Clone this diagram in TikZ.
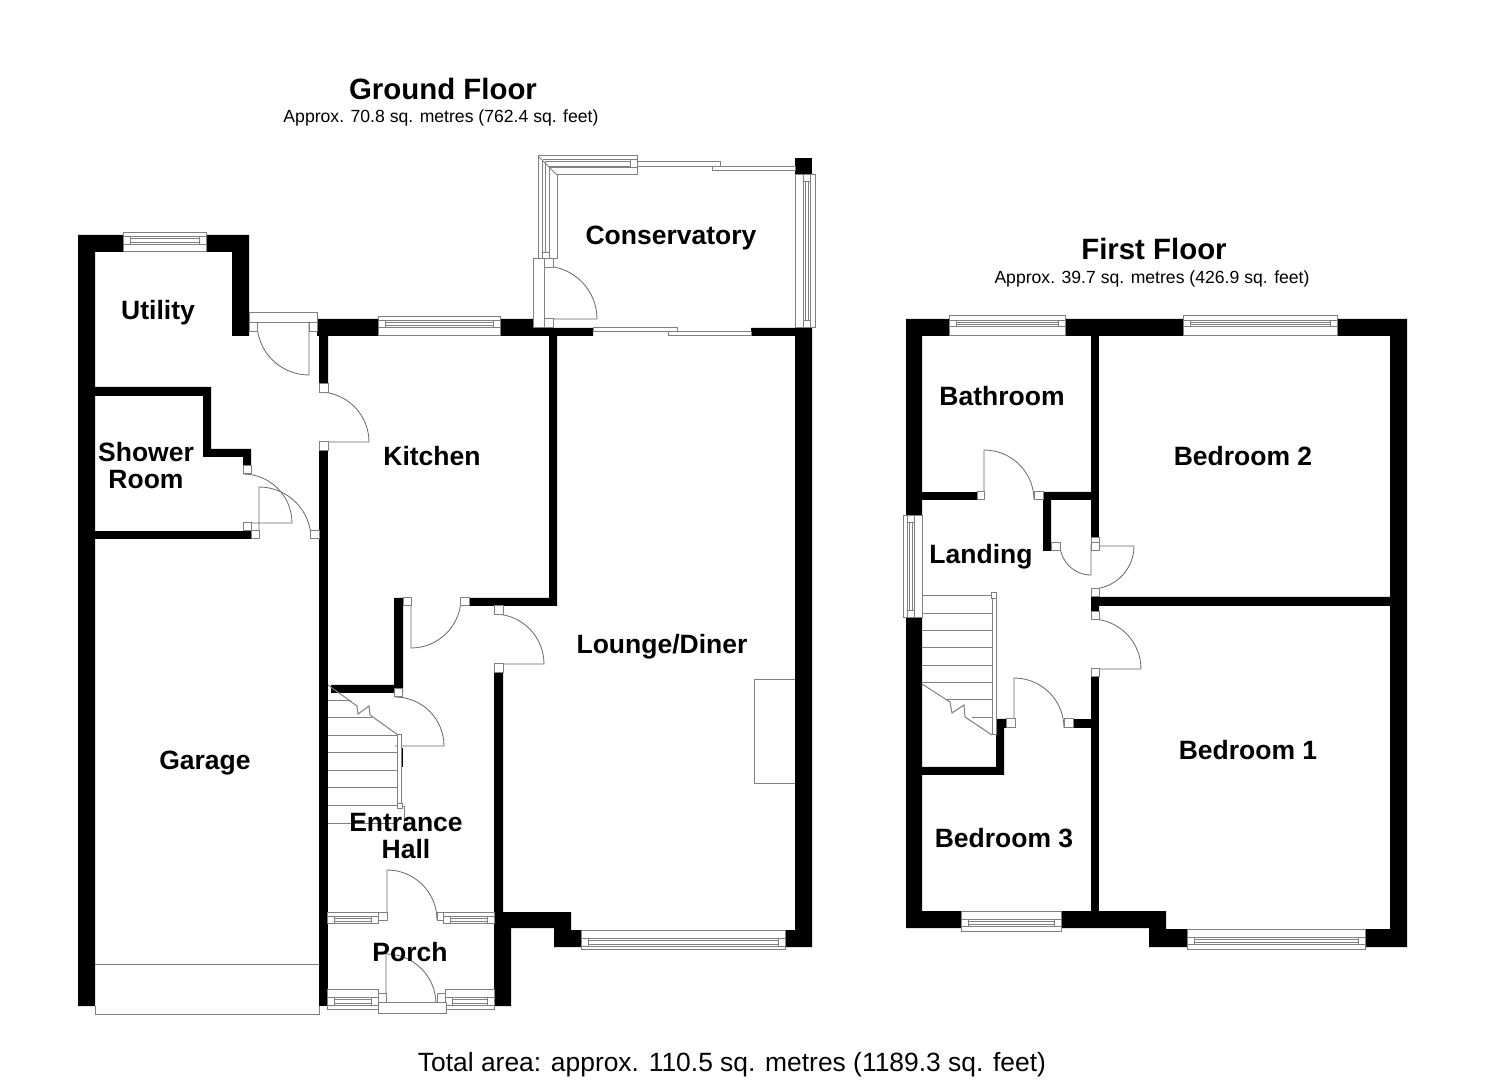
\documentclass[tikz,border=0pt]{standalone}
\usepackage{fontspec}
\setmainfont{Liberation Sans}
\tikzset{
	wall/.style={fill=black, draw=none},
	frame/.style={draw=planline, fill=white, line width=0.5pt},
	plan/.style={draw=planline, line width=0.5pt},
	swingline/.style={draw=swingcol, line width=0.4pt},
	room/.style={font=\fontsize{13.25}{13.5}\selectfont\bfseries, align=center, inner sep=0pt},
	floortitle/.style={font=\fontsize{14.7}{16}\selectfont\bfseries, inner sep=0pt},
	floorarea/.style={font=\fontsize{8.8}{10}\selectfont, inner sep=0pt},
}
\definecolor{planline}{HTML}{808080}
\definecolor{swingcol}{HTML}{666666}
\newcommand{\hwin}[6]{
	\draw[frame] (#1,#3) rectangle (#2,#4);
	\draw[plan] (#1,#5) -- (#2,#5);
	\draw[plan] (#1,#6) -- (#2,#6);
	\draw[plan] ({#1+7},#5) -- ({#1+7},#6);
	\draw[plan] ({#2-7},#5) -- ({#2-7},#6);
	\draw[frame] ({#1+7},{#5+2}) rectangle ({#2-7},{#6-2});
}
\newcommand{\vwin}[6]{
	\draw[frame] (#3,#1) rectangle (#4,#2);
	\draw[plan] (#5,#1) -- (#5,#2);
	\draw[plan] (#6,#1) -- (#6,#2);
	\draw[plan] (#5,{#1+7}) -- (#6,{#1+7});
	\draw[plan] (#5,{#2-7}) -- (#6,{#2-7});
	\draw[frame] ({#5+2},{#1+7}) rectangle ({#6-2},{#2-7});
}
\newcommand{\swing}[5]{
	\draw[swingline] (#1,#2) ++(#4:#3) arc[start angle=#4, end angle=#5, radius=#3] -- (#1,#2);
}
\newcommand{\jamb}[4]{
	\draw[frame] (#1,#2) rectangle (#3,#4);
}
\begin{document}
\begin{tikzpicture}[x=0.5pt, y=-0.5pt]
	\useasboundingbox (0,0) rectangle (1485,1080);

	% ground floor walls
	\fill[wall] (78,235) -- (249,235) -- (249,336) -- (232,336) -- (232,252) -- (95,252) -- (95,1006) -- (78,1006) -- cycle;
	\fill[wall] (95,387) -- (211,387) -- (211,449) -- (251,449) -- (251,466) -- (243,466) -- (243,457) -- (203,457) -- (203,396) -- (95,396) -- cycle;
	\fill[wall] (95,531) rectangle (251,539);
	\fill[wall] (317,319) -- (533,319) -- (533,328) -- (593,328) -- (593,336) -- (557,336) -- (557,606) -- (469,606) -- (469,598) -- (549,598) -- (549,336) -- (328,336) -- (328,384) -- (319,384) -- (319,336) -- (317,336) -- cycle;
	\fill[wall] (319,451) rectangle (328,1006);
	\fill[wall] (394,598) -- (403,598) -- (403,693) -- (331,693) -- (331,685) -- (394,685) -- cycle;
	\fill[wall] (494,673) -- (503,673) -- (503,912) -- (571,912) -- (571,930) -- (581,930) -- (581,947) -- (554,947) -- (554,928) -- (511,928) -- (511,1006) -- (494,1006) -- cycle;
	\fill[wall] (751,328) -- (812,328) -- (812,947) -- (785,947) -- (785,930) -- (795,930) -- (795,336) -- (751,336) -- cycle;
	\fill[wall] (795,158) rectangle (812,175);
	\fill[wall] (401,748) rectangle (403,767);

	% first floor walls
	\fill[wall] (906,319) -- (1407,319) -- (1407,947) -- (1365,947) -- (1365,929) -- (1390,929) -- (1390,336) -- (922,336) -- (922,911) -- (961,911) -- (961,928) -- (906,928) -- cycle;
	\fill[wall] (1061,911) -- (1166,911) -- (1166,929) -- (1187,929) -- (1187,947) -- (1149,947) -- (1149,928) -- (1061,928) -- cycle;
	\fill[wall] (1091,336) rectangle (1099,538);
	\fill[wall] (922,492) rectangle (977,500);
	\fill[wall] (1043,492) -- (1091,492) -- (1091,500) -- (1051,500) -- (1051,551) -- (1043,551) -- cycle;
	\fill[wall] (1091,597) -- (1391,597) -- (1391,606) -- (1099,606) -- (1099,612) -- (1091,612) -- cycle;
	\fill[wall] (1091,677) rectangle (1099,911);
	\fill[wall] (1073,719) rectangle (1091,728);
	\fill[wall] (922,767) -- (996,767) -- (996,719) -- (1006,719) -- (1006,728) -- (1004,728) -- (1004,775) -- (922,775) -- cycle;

	% door swings
	\swing{309}{323}{52}{180}{90}
	\swing{319}{442}{50}{-90}{0}
	\swing{243}{523}{49}{-90}{0}
	\swing{259}{539}{52}{0}{-90}
	\swing{544}{319}{53}{-90}{0}
	\swing{411}{598}{50}{0}{90}
	\swing{494}{664}{50}{-90}{0}
	\swing{395}{746}{49}{-90}{0}
	\swing{387}{920}{50}{0}{-90}
	\swing{386}{1004}{50}{0}{-90}
	\swing{984}{500}{50}{0}{-90}
	\swing{1091}{546}{43}{90}{0}
	\swing{1091}{544}{31}{180}{90}
	\swing{1091}{669}{50}{-90}{0}
	\swing{1014}{728}{50}{0}{-90}

	% ground floor windows
	\hwin{123}{206}{233}{252}{237}{245}
	\hwin{378}{500}{317}{336}{321}{328}
	\hwin{581}{785}{930}{949}{938}{946}
	\hwin{327}{378}{912}{923}{916}{923}
	\hwin{443}{494}{912}{923}{916}{923}
	\hwin{327}{378}{989}{1009}{997}{1005}
	\hwin{445}{494}{989}{1009}{997}{1005}
	\vwin{175}{328}{795}{815}{803}{810}

	% conservatory corner window
	\draw[frame] (538,156) -- (637,156) -- (637,175) -- (557,175) -- (557,259) -- (538,259) -- cycle;
	\draw[plan] (538,156) -- (557,175);
	\draw[plan] (543,160) -- (637,160);
	\draw[plan] (545,162) -- (630,162);
	\draw[plan] (549,168) -- (637,168);
	\draw[plan] (548,167) -- (630,167);
	\draw[plan] (542,160) -- (542,259);
	\draw[plan] (545,162) -- (545,253);
	\draw[plan] (549,168) -- (549,259);
	\jamb{630}{160}{637}{168}
	\jamb{542}{253}{549}{259}

	% sliding doors
	\draw[frame] (637,162) rectangle (720,167);
	\draw[frame] (712,167) rectangle (795,171);
	\draw[frame] (593,328) rectangle (677,332);
	\draw[frame] (668,332) rectangle (751,336);

	% door frames
	\draw[frame] (249,313) rectangle (317,323);
	\draw[frame] (533,259) rectangle (544,328);
	\draw[frame] (378,1002) rectangle (446,1013);

	% jambs
	\jamb{249}{323}{257}{332}
	\jamb{309}{323}{317}{332}
	\jamb{319}{384}{328}{393}
	\jamb{319}{442}{328}{451}
	\jamb{243}{466}{251}{474}
	\jamb{243}{523}{251}{531}
	\jamb{251}{531}{259}{539}
	\jamb{310}{531}{319}{539}
	\jamb{544}{259}{553}{268}
	\jamb{544}{319}{553}{328}
	\jamb{460}{598}{469}{606}
	\jamb{403}{598}{411}{606}
	\jamb{494}{606}{503}{615}
	\jamb{494}{664}{503}{673}
	\jamb{378}{912}{387}{920}
	\jamb{437}{912}{443}{920}
	\jamb{378}{993}{386}{1002}
	\jamb{437}{993}{445}{1002}

	% garage door and chimney
	\draw[plan] (95,964) -- (319,964);
	\draw[plan] (95,1006) -- (95,1014) -- (319,1014) -- (319,1006);
	\draw[plan] (795,680) -- (754,680) -- (754,784) -- (795,784);

	% ground floor stairs
	\foreach \ty in {736,753,771,788,805,823} {
		\draw[plan] (328,\ty) -- (397,\ty);
	}
	\draw[plan] (328,701) -- (351,701);
	\draw[plan] (328,718) -- (372,718);
	\draw[plan] (328,685) -- (357,706) -- (358,714) -- (369,706) -- (370,715) -- (398,735);
	\draw[frame] (397,735) rectangle (401,803);
	\jamb{397}{803}{402}{808}
	\draw[plan] (402,806) -- (404,806) -- (404,825);
	\jamb{394}{689}{402}{697}

	% first floor windows
	\hwin{949}{1065}{316}{336}{321}{327}
	\hwin{1183}{1337}{316}{336}{321}{327}
	\hwin{961}{1061}{911}{931}{919}{926}
	\hwin{1187}{1365}{929}{949}{937}{944}
	\vwin{516}{618}{903}{922}{907}{914}

	% first floor jambs
	\jamb{977}{492}{984}{500}
	\jamb{1034}{492}{1043}{500}
	\jamb{1051}{543}{1060}{551}
	\jamb{1091}{538}{1099}{543}
	\jamb{1091}{543}{1099}{551}
	\jamb{1091}{589}{1099}{597}
	\jamb{1091}{612}{1099}{620}
	\jamb{1091}{669}{1099}{677}
	\jamb{1006}{719}{1015}{728}
	\jamb{1064}{719}{1073}{728}

	% first floor stairs
	\foreach \ty in {596,614,631,648,666,683} {
		\draw[plan] (922,\ty) -- (992,\ty);
	}
	\draw[plan] (945,700) -- (992,700);
	\draw[plan] (972,718) -- (992,718);
	\draw[plan] (922,684) -- (950,702) -- (952,713) -- (964,705) -- (965,717) -- (992,735);
	\draw[frame] (992,596) rectangle (996,735);
	\jamb{991}{593}{996}{599}

	% texts
	\node[floortitle] (groundtitle) at (443,89) {Ground Floor};
	\node[floorarea] (groundarea) at (441,118) {Approx. 70.8 sq. metres (762.4 sq. feet)};
	\node[floortitle] (firsttitle) at (1154,249) {First Floor};
	\node[floorarea] (firstarea) at (1152,279) {Approx. 39.7 sq. metres (426.9 sq. feet)};
	\node[room] (conservatory) at (671,238) {Conservatory};
	\node[room] (utility) at (158,313) {Utility};
	\node[room] (shower) at (146,466) {Shower\\Room};
	\node[room] (kitchen) at (432,456) {Kitchen};
	\node[room] (lounge) at (662,647) {Lounge/Diner};
	\node[room] (garage) at (205,763) {Garage};
	\node[room] (hall) at (406,836) {Entrance\\Hall};
	\node[room] (porch) at (410,952) {Porch};
	\node[room] (bathroom) at (1002,396) {Bathroom};
	\node[room] (bedtwo) at (1243,456) {Bedroom 2};
	\node[room] (landing) at (981,557) {Landing};
	\node[room] (bedone) at (1248,750) {Bedroom 1};
	\node[room] (bedthree) at (1004,838) {Bedroom 3};
	\node[inner sep=0pt, font=\fontsize{13.2}{15}\selectfont] (totalarea) at (732,1065) {Total area: approx. 110.5 sq. metres (1189.3 sq. feet)};
\end{tikzpicture}
\end{document}
